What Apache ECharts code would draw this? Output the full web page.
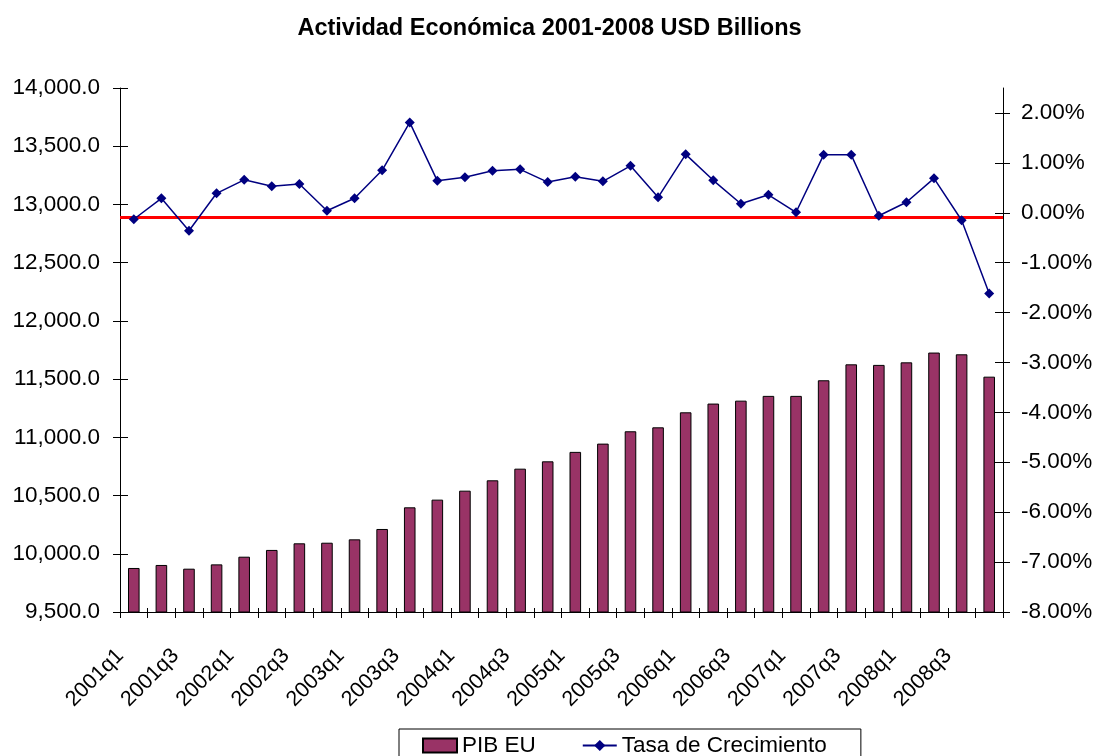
<!DOCTYPE html>
<html>
<head>
<meta charset="utf-8">
<script src="https://cdn.jsdelivr.net/npm/echarts@6/dist/echarts.min.js"></script>
<style>
html,body{margin:0;padding:0;background:#fff;}
#chart{width:1099px;height:756px;}
</style>
</head>
<body>
<div id="chart"></div>
<script>
const categories = ['2001q1','2001q2','2001q3','2001q4','2002q1','2002q2','2002q3','2002q4',
  '2003q1','2003q2','2003q3','2003q4','2004q1','2004q2','2004q3','2004q4',
  '2005q1','2005q2','2005q3','2005q4','2006q1','2006q2','2006q3','2006q4',
  '2007q1','2007q2','2007q3','2007q4','2008q1','2008q2','2008q3','2008q4'];
const pibEU = [9878, 9904, 9872, 9909, 9975, 10033, 10090, 10095,
  10124, 10213, 10399, 10465, 10542, 10631, 10731, 10794,
  10875, 10946, 11052, 11086, 11215, 11290, 11315, 11356,
  11356, 11490, 11627, 11622, 11644, 11728, 11713, 11521];
const tasaCrecimiento = [-0.13, 0.29, -0.36, 0.39, 0.66, 0.53, 0.575, 0.04,
  0.29, 0.85, 1.81, 0.64, 0.71, 0.84, 0.87, 0.615,
  0.72, 0.63, 0.94, 0.31, 1.17, 0.65, 0.18, 0.36,
  0.01, 1.16, 1.16, -0.06, 0.21, 0.69, -0.15, -1.62];
const redLineValue = -0.08;
const leftTicks = [9500, 10000, 10500, 11000, 11500, 12000, 12500, 13000, 13500, 14000];
const rightTicks = [-8, -7, -6, -5, -4, -3, -2, -1, 0, 1, 2];

const FONT = 'Liberation Sans, Arial, sans-serif';
const chart = echarts.init(document.getElementById('chart'), null, {renderer: 'canvas'});

const fmtLeft = v => v.toLocaleString('en-US', {minimumFractionDigits: 1, maximumFractionDigits: 1});
const fmtRight = v => v.toFixed(2) + '%';

const lineStyleBlack = {color: '#000', width: 1};

const option = {
  backgroundColor: '#fff',
  animation: false,
  title: {
    text: 'Actividad Económica 2001-2008 USD Billions',
    left: 'center',
    top: 12,
    textStyle: {fontFamily: FONT, fontSize: 23.5, fontWeight: 'bold', color: '#000'}
  },
  legend: {
    left: 399,
    top: 729,
    padding: [5, 34, 5, 23],
    itemGap: 46,
    itemWidth: 34,
    itemHeight: 14,
    borderColor: '#000',
    borderWidth: 1,
    textStyle: {fontFamily: FONT, fontSize: 22.5, color: '#000'},
    data: [
      {name: 'PIB EU', icon: 'rect'},
      {name: 'Tasa de Crecimiento'}
    ]
  },
  grid: {left: 120, right: 96, top: 88, bottom: 144, containLabel: false},
  xAxis: [
    {
      type: 'category',
      data: categories,
      boundaryGap: true,
      axisLine: {onZero: false, lineStyle: lineStyleBlack},
      axisTick: {show: true, interval: 0, length: 6, lineStyle: lineStyleBlack},
      axisLabel: {
        interval: 1, rotate: 45, margin: 27,
        padding: [0, 19, 0, 0],
        fontFamily: FONT, fontSize: 21.5, color: '#000'
      },
      splitLine: {show: false}
    },
    {
      type: 'category',
      data: categories,
      position: 'bottom',
      boundaryGap: true,
      axisLine: {show: false, onZero: false},
      axisTick: {show: true, inside: true, interval: 0, length: 4, lineStyle: lineStyleBlack},
      axisLabel: {show: false},
      splitLine: {show: false}
    }
  ],
  yAxis: [
    {
      type: 'value', position: 'left',
      min: 9500, max: 14000, interval: 500,
      axisLine: {show: true, lineStyle: lineStyleBlack},
      axisTick: {show: true, length: 7, lineStyle: lineStyleBlack, customValues: leftTicks},
      axisLabel: {margin: 20, formatter: fmtLeft, fontFamily: FONT, fontSize: 22.5, color: '#000', customValues: leftTicks},
      splitLine: {show: false}
    },
    {
      type: 'value', position: 'right',
      min: -8, max: 2.5, interval: 1,
      axisLine: {show: true, lineStyle: lineStyleBlack},
      axisTick: {show: true, length: 7, lineStyle: lineStyleBlack, customValues: rightTicks},
      axisLabel: {margin: 18, formatter: fmtRight, fontFamily: FONT, fontSize: 22.5, color: '#000', customValues: rightTicks},
      splitLine: {show: false}
    },
    {
      type: 'value', position: 'left',
      min: 9500, max: 14000, interval: 500,
      axisLine: {show: false},
      axisTick: {show: true, inside: true, length: 8, lineStyle: lineStyleBlack, customValues: leftTicks},
      axisLabel: {show: false},
      splitLine: {show: false}
    },
    {
      type: 'value', position: 'right',
      min: -8, max: 2.5, interval: 1,
      axisLine: {show: false},
      axisTick: {show: true, inside: true, length: 8, lineStyle: lineStyleBlack, customValues: rightTicks},
      axisLabel: {show: false},
      splitLine: {show: false}
    }
  ],
  series: [
    {
      name: 'PIB EU',
      type: 'bar',
      xAxisIndex: 0,
      yAxisIndex: 0,
      data: pibEU,
      barWidth: '42%',
      itemStyle: {color: '#993366', borderColor: '#000', borderWidth: 1}
    },
    {
      name: 'Tasa de Crecimiento',
      type: 'line',
      xAxisIndex: 0,
      yAxisIndex: 1,
      data: tasaCrecimiento,
      symbol: 'diamond',
      symbolSize: 10,
      lineStyle: {color: '#000080', width: 1.5},
      itemStyle: {color: '#000080'},
      z: 5,
      markLine: {
        silent: true,
        symbol: 'none',
        label: {show: false},
        lineStyle: {color: '#FF0000', width: 3, type: 'solid'},
        data: [{yAxis: redLineValue}]
      }
    }
  ]
};
chart.setOption(option);
</script>
</body>
</html>
